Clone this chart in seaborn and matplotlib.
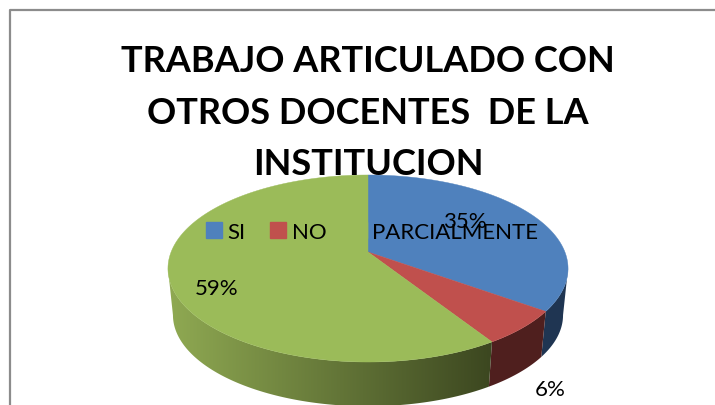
import numpy as np
import matplotlib
matplotlib.use("Agg")
import matplotlib.pyplot as plt
from matplotlib.patches import Patch, Polygon
import seaborn as sns

# data
categories = ["SI", "NO", "PARCIALMENTE"]
values = [35, 6, 59]
pct_labels = ["35%", "6%", "59%"]
title_lines = ["TRABAJO ARTICULADO CON", "OTROS DOCENTES  DE LA", "INSTITUCION"]

top_colors = ["#4F81BD", "#C0504D", "#9BBB59"]
side_left = ["#1F3552", "#4F1F1E", "#8FA952"]
side_right = ["#1F3552", "#4F1F1E", "#3C4720"]

sns.set_theme(style="white")
plt.rcParams['font.family'] = ['Lato', 'DejaVu Sans']

fig = plt.figure(figsize=(7.15, 4.06), dpi=100)
ax = fig.add_axes([0, 0, 1, 1])

# pie apex and perspective
CX, CY = 368, 253
RX, RY, K = 196.9, 90.6, 0.1765
DEPTH, SHRINK = 47, 0.975
# the wall is only seen between the two silhouette angles
FRONT_START, FRONT_END = np.radians(100.2), np.radians(259.8)


def project(angle, bottom=False):
    u = np.sin(angle)
    v = np.cos(angle)
    w = 1 + K * v
    x = RX * u / w
    y = RY * v / w
    if bottom:
        return CX + x * SHRINK, CY - y * SHRINK + DEPTH
    return CX + x, CY - y


edges = np.radians(np.concatenate([[0], np.cumsum(values)]) * 3.6)

# side walls, horizontal gradient clipped to each wall
frac = np.clip((np.arange(715) - 170) / 320, 0, 1)[None, :, None]
for i in range(len(values)):
    a0 = max(edges[i], FRONT_START)
    a1 = min(edges[i + 1], FRONT_END)
    angles = np.linspace(a0, a1, 200)
    xt, yt = project(angles)
    xb, yb = project(angles, bottom=True)
    wall = Polygon(np.c_[np.r_[xt, xb[::-1]], np.r_[yt, yb[::-1]]], closed=True,
                   transform=ax.transData, fc="none", ec="none")
    ax.add_patch(wall)
    left = np.array(matplotlib.colors.to_rgb(side_left[i]))
    right = np.array(matplotlib.colors.to_rgb(side_right[i]))
    grad = left * (1 - frac) + right * frac
    im = ax.imshow(grad, extent=(0, 715, 406, 0), aspect="auto", zorder=1)
    im.set_clip_path(wall)

# top faces
for i in range(len(values)):
    angles = np.linspace(edges[i], edges[i + 1], 200)
    xt, yt = project(angles)
    ax.fill(np.r_[CX, xt], np.r_[CY, yt], color=top_colors[i], lw=0.3, zorder=2)

ax.set_xlim(0, 715)
ax.set_ylim(406, 0)
ax.axis("off")

# chart area border, left and top only
ax.plot([10, 10, 715], [406, 11, 11], color="#8C8C8C", lw=1.6, zorder=0)

for line, y in zip(title_lines, [62, 114, 165]):
    ax.text(368, y, line, ha="center", va="center", fontsize=26,
            fontweight="bold", color="black", zorder=3)

for label, x, y in zip(pct_labels, [465, 550, 217], [222, 390, 289]):
    ax.text(x, y, label, ha="center", va="center", fontsize=16, color="black", zorder=4)

handles = [Patch(color=c, label=n) for c, n in zip(top_colors, categories)]
ax.legend(handles=handles, ncol=3, frameon=False, fontsize=16, labelcolor="black",
          loc="center left", bbox_to_anchor=(206 / 715, 1 - 233 / 406),
          handlelength=0.72, handleheight=0.72, handletextpad=0.25,
          columnspacing=1.1, borderpad=0, borderaxespad=0)

fig.savefig("out.png", dpi=100)
